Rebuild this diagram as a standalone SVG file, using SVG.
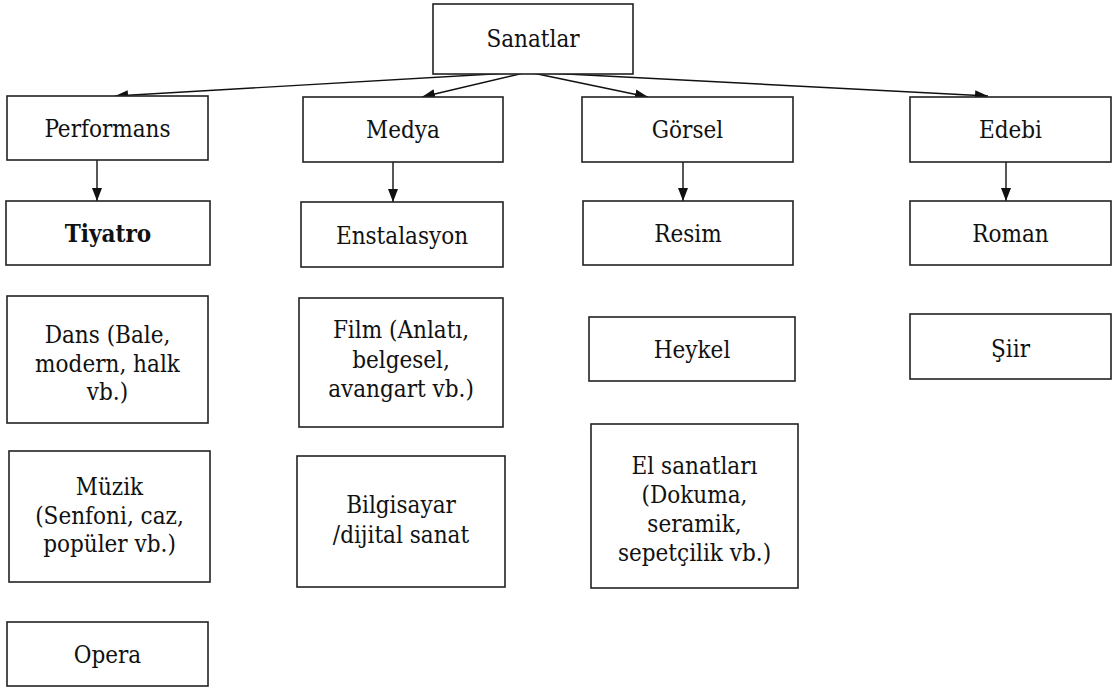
<svg xmlns="http://www.w3.org/2000/svg" width="1112" height="688" viewBox="0 0 1112 688">
<style>
.box{fill:#fff;stroke:#222;stroke-width:1.6}
text{font-family:'DejaVu Serif Condensed','DejaVu Serif',serif;font-stretch:condensed;font-size:24px;fill:#111;text-anchor:middle}
.b{font-weight:bold}
.c{stroke:#111;stroke-width:1.4;fill:none}
</style>
<defs>
<marker id="ah" markerUnits="userSpaceOnUse" markerWidth="13" markerHeight="10" refX="13" refY="5" orient="auto">
<path d="M0,0 L13,5 L0,10 Z" fill="#111"/>
</marker>
</defs>
<rect width="1112" height="688" fill="#fff"/>
<g id="connectors">
<line class="c" x1="528" y1="72" x2="115" y2="96" marker-end="url(#ah)"/>
<line class="c" x1="528" y1="72" x2="422" y2="97" marker-end="url(#ah)"/>
<line class="c" x1="528" y1="72" x2="648" y2="97" marker-end="url(#ah)"/>
<line class="c" x1="528" y1="72" x2="988" y2="96" marker-end="url(#ah)"/>
<line class="c" x1="97" y1="160" x2="97" y2="201" marker-end="url(#ah)"/>
<line class="c" x1="393" y1="162" x2="393" y2="202" marker-end="url(#ah)"/>
<line class="c" x1="683" y1="162" x2="683" y2="201" marker-end="url(#ah)"/>
<line class="c" x1="1006" y1="162" x2="1006" y2="201" marker-end="url(#ah)"/>
</g>
<g id="sanatlar"><rect class="box" x="433" y="4" width="200" height="70"/><text x="533" y="47">Sanatlar</text></g>
<g id="performans"><rect class="box" x="7" y="96" width="201" height="64"/><text x="107.5" y="137">Performans</text></g>
<g id="medya"><rect class="box" x="303" y="97" width="200" height="65"/><text x="403" y="138">Medya</text></g>
<g id="gorsel"><rect class="box" x="582" y="97" width="211" height="65"/><text x="687.5" y="138">Görsel</text></g>
<g id="edebi"><rect class="box" x="910" y="97" width="201" height="65"/><text x="1010.5" y="138">Edebi</text></g>
<g id="tiyatro"><rect class="box" x="6" y="201" width="204" height="64"/><text class="b" x="108" y="242">Tiyatro</text></g>
<g id="enstalasyon"><rect class="box" x="301" y="202" width="202" height="65"/><text x="402" y="244">Enstalasyon</text></g>
<g id="resim"><rect class="box" x="583" y="201" width="210" height="64"/><text x="688" y="242">Resim</text></g>
<g id="roman"><rect class="box" x="910" y="201" width="201" height="64"/><text x="1010.5" y="242">Roman</text></g>
<g id="dans"><rect class="box" x="7" y="296" width="201" height="127"/><text x="107.5" y="343">Dans (Bale,</text><text x="107.5" y="372">modern, halk</text><text x="107.5" y="400">vb.)</text></g>
<g id="muzik"><rect class="box" x="9" y="451" width="201" height="131"/><text x="109.5" y="495">Müzik</text><text x="109.5" y="524">(Senfoni, caz,</text><text x="109.5" y="552">popüler vb.)</text></g>
<g id="opera"><rect class="box" x="7" y="622" width="201" height="64"/><text x="107.5" y="663">Opera</text></g>
<g id="film"><rect class="box" x="299" y="298" width="204" height="129"/><text x="401" y="338">Film (Anlatı,</text><text x="401" y="368">belgesel,</text><text x="401" y="397">avangart vb.)</text></g>
<g id="bilgisayar"><rect class="box" x="297" y="456" width="208" height="131"/><text x="401" y="513">Bilgisayar</text><text x="401" y="543">/dijital sanat</text></g>
<g id="heykel"><rect class="box" x="589" y="317" width="206" height="64"/><text x="692" y="358">Heykel</text></g>
<g id="elsanatlari"><rect class="box" x="591" y="424" width="207" height="164"/><text x="694.5" y="474">El sanatları</text><text x="694.5" y="503">(Dokuma,</text><text x="694.5" y="532">seramik,</text><text x="694.5" y="561">sepetçilik vb.)</text></g>
<g id="siir"><rect class="box" x="910" y="314" width="201" height="65"/><text x="1010.5" y="357">Şiir</text></g>
</svg>
